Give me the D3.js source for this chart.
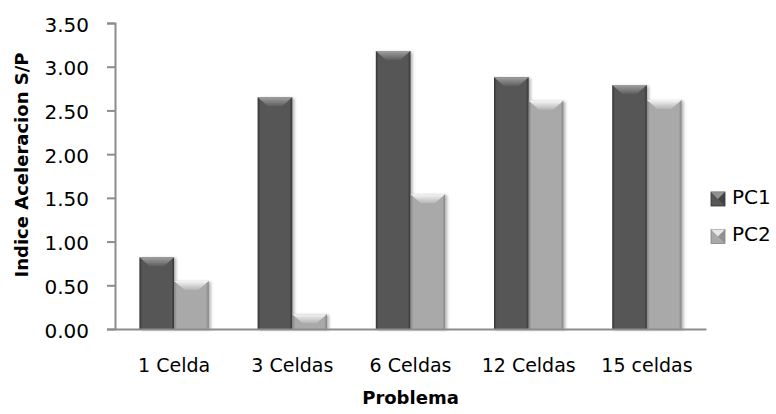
<!DOCTYPE html>
<html>
<head>
<meta charset="utf-8">
<script src="https://cdn.jsdelivr.net/npm/d3@7"></script>
<style>
  html, body { margin: 0; padding: 0; background: #fff; }
  svg { display: block; }
  text { font-family: "DejaVu Sans", sans-serif; fill: #000; }
</style>
</head>
<body>
<div id="chart"></div>
<script>
/* Indice de aceleracion S/P por problema, PC1 vs PC2 (bar chart, bevelled bars) */
var categories = ['1 Celda', '3 Celdas', '6 Celdas', '12 Celdas', '15 celdas'];
var seriesNames = ['PC1', 'PC2'];
var pc1 = [0.82, 2.65, 3.18, 2.88, 2.79];
var pc2 = [0.55, 0.17, 1.54, 2.61, 2.62];
var yTicks = [0, 0.5, 1, 1.5, 2, 2.5, 3, 3.5];

(function () {
  'use strict';
  var W = 776, H = 414;
  var plot = { left: 115, right: 706, top: 23, bottom: 329 };

  /* colours per series: edge, body, bevel top, bevel low */
  var pal = {
    PC1: { edge: '#333333', body: '#575757', hi: '#a0a0a0', lo: '#5e5e5e' },
    PC2: { edge: '#828282', body: '#a9a9a9', hi: '#f6f6f6', lo: '#b4b4b4' }
  };

  var svg = d3.select('#chart').append('svg').attr('width', W).attr('height', H);
  var defs = svg.append('defs');

  seriesNames.forEach(function (s) {
    var c = pal[s];
    var g = defs.append('linearGradient').attr('id', 'body-' + s)
      .attr('x1', 0).attr('x2', 1).attr('y1', 0).attr('y2', 0);
    g.append('stop').attr('offset', 0).attr('stop-color', c.edge);
    g.append('stop').attr('offset', 0.08).attr('stop-color', c.body);
    g.append('stop').attr('offset', 0.92).attr('stop-color', c.body);
    g.append('stop').attr('offset', 1).attr('stop-color', c.edge);
    var t = defs.append('linearGradient').attr('id', 'top-' + s)
      .attr('x1', 0).attr('x2', 0).attr('y1', 0).attr('y2', 1);
    t.append('stop').attr('offset', 0).attr('stop-color', c.hi);
    t.append('stop').attr('offset', 1).attr('stop-color', c.lo);
  });

  var shadow = defs.append('filter').attr('id', 'shadow')
    .attr('x', '-20%').attr('y', '-20%').attr('width', '150%').attr('height', '150%');
  shadow.append('feDropShadow').attr('dx', 2).attr('dy', 1).attr('stdDeviation', 1.5)
    .attr('flood-color', '#000').attr('flood-opacity', 0.3);

  var x0 = d3.scaleBand().domain(categories).range([plot.left, plot.right])
    .paddingInner(0.413).paddingOuter(0.2065);
  var x1 = d3.scaleBand().domain(seriesNames).range([0, x0.bandwidth()]);
  var y = d3.scaleLinear().domain([0, 3.5]).range([plot.bottom, plot.top]);

  var values = { PC1: pc1, PC2: pc2 };
  var rows = [];
  categories.forEach(function (cat, i) {
    seriesNames.forEach(function (s) { rows.push({ cat: cat, s: s, v: values[s][i] }); });
  });

  /* bevelled bar: body + top chevron facet */
  function drawBar(g, bx, by, bw, bh, s) {
    var grp = g.append('g').attr('filter', 'url(#shadow)');
    grp.append('rect').attr('x', bx).attr('y', by).attr('width', bw).attr('height', bh)
      .attr('fill', 'url(#body-' + s + ')');
    var d = Math.min(9, bh);
    var inset = bw * 0.3;
    grp.append('path')
      .attr('d', 'M' + bx + ',' + by + 'L' + (bx + bw) + ',' + by +
        'L' + (bx + bw - inset) + ',' + (by + d) + 'L' + (bx + inset) + ',' + (by + d) + 'Z')
      .attr('fill', 'url(#top-' + s + ')');
  }

  /* bars */
  var barsG = svg.append('g');
  rows.forEach(function (r) {
    var bx = x0(r.cat) + x1(r.s);
    drawBar(barsG, bx, y(r.v), x1.bandwidth(), y(0) - y(r.v), r.s);
  });

  /* y axis */
  var yAxis = svg.append('g').attr('transform', 'translate(' + plot.left + ',0)')
    .call(d3.axisLeft(y).tickValues(yTicks).tickFormat(d3.format('.2f')).tickSize(8).tickPadding(18));
  yAxis.select('.domain').attr('stroke', '#8c8c8c').attr('stroke-width', 2);
  yAxis.selectAll('.tick line').attr('stroke', '#8c8c8c').attr('stroke-width', 2);
  yAxis.selectAll('.tick text').attr('dy', '0.4em')
    .style('font-size', '20px').style('font-family', '"DejaVu Sans", sans-serif').attr('fill', '#000');

  /* x axis */
  var xAxis = svg.append('g').attr('transform', 'translate(0,' + plot.bottom + ')')
    .call(d3.axisBottom(x0).tickSize(0).tickPadding(0).tickSizeOuter(0));
  xAxis.select('.domain').attr('stroke', '#8c8c8c').attr('stroke-width', 2);
  xAxis.selectAll('.tick text').attr('y', 43).attr('dy', 0)
    .style('font-size', '19px').style('font-family', '"DejaVu Sans", sans-serif').attr('fill', '#000');

  /* axis titles */
  svg.append('text')
    .attr('transform', 'translate(28,165) rotate(-90)')
    .attr('text-anchor', 'middle')
    .style('font-size', '18px').style('font-weight', 'bold')
    .text('Indice Aceleracion S/P');
  svg.append('text')
    .attr('x', (plot.left + plot.right) / 2).attr('y', 404)
    .attr('text-anchor', 'middle')
    .style('font-size', '18px').style('font-weight', 'bold')
    .text('Problema');

  /* legend */
  var legend = svg.append('g');
  seriesNames.forEach(function (s, i) {
    var ly = 192 + i * 37.5;
    var c = pal[s];
    var sq = 14;
    legend.append('rect').attr('x', 711).attr('y', ly).attr('width', sq).attr('height', sq)
      .attr('fill', c.body).attr('stroke', c.edge).attr('stroke-width', 0.8);
    /* pyramid facets */
    legend.append('path')
      .attr('d', 'M711,' + ly + 'l' + sq + ',0l' + (-sq / 2) + ',' + (sq / 2) + 'Z')
      .attr('fill', c.hi).attr('opacity', 0.8);
    legend.append('path')
      .attr('d', 'M' + (711 + sq) + ',' + ly + 'l0,' + sq + 'l' + (-sq / 2) + ',' + (-sq / 2) + 'Z')
      .attr('fill', c.edge).attr('opacity', 0.6);
    legend.append('text')
      .attr('x', 732).attr('y', ly + 11.5)
      .style('font-size', '20px')
      .text(s);
  });
})();
</script>
</body>
</html>
